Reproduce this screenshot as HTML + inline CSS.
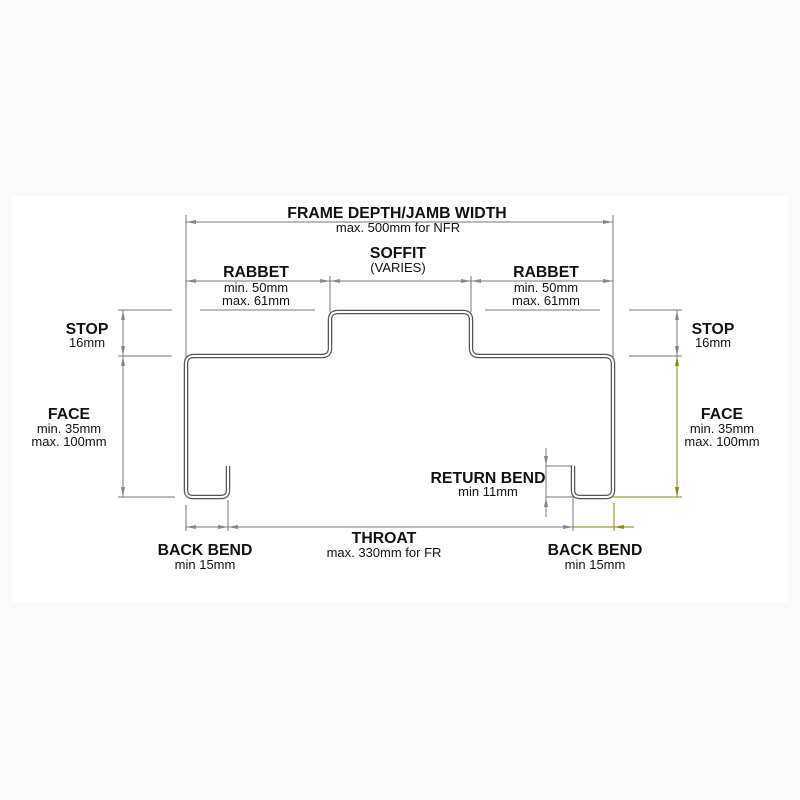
<!DOCTYPE html>
<html><head><meta charset="utf-8"><style>
html,body{margin:0;padding:0;background:#fafafa;}
svg{display:block;}
text{font-family:"Liberation Sans",sans-serif;fill:#111;text-anchor:middle;}
.b{font-weight:bold;font-size:15.8px;}
.s{font-size:13px;}
</style></head><body>
<svg width="800" height="800" viewBox="0 0 800 800" xmlns="http://www.w3.org/2000/svg">
<defs>
<marker id="a" markerWidth="10" markerHeight="6" refX="10" refY="3" orient="auto-start-reverse" markerUnits="userSpaceOnUse"><path d="M0,1 L10,3 L0,5 Z" fill="#888"/></marker>
<marker id="o" markerWidth="10" markerHeight="6" refX="10" refY="3" orient="auto-start-reverse" markerUnits="userSpaceOnUse"><path d="M0,1 L10,3 L0,5 Z" fill="#8a8a10"/></marker>
</defs>
<rect x="12" y="196" width="776" height="406" fill="#fff"/>
<g stroke="#777" stroke-width="1" fill="none">
<line x1="186" y1="222" x2="613" y2="222" marker-start="url(#a)" marker-end="url(#a)"/>
<line x1="186" y1="215" x2="186" y2="357"/>
<line x1="613" y1="215" x2="613" y2="357"/>
<line x1="186" y1="281" x2="330" y2="281" marker-start="url(#a)" marker-end="url(#a)"/>
<line x1="330" y1="281" x2="471" y2="281" marker-start="url(#a)" marker-end="url(#a)"/>
<line x1="471" y1="281" x2="613" y2="281" marker-start="url(#a)" marker-end="url(#a)"/>
<line x1="330" y1="276" x2="330" y2="312"/>
<line x1="471" y1="276" x2="471" y2="312"/>
<line x1="200" y1="310" x2="315" y2="310"/>
<line x1="485" y1="310" x2="600" y2="310"/>
<line x1="118" y1="310" x2="172" y2="310"/>
<line x1="118" y1="356" x2="172" y2="356"/>
<line x1="118" y1="497" x2="175" y2="497"/>
<line x1="123" y1="310" x2="123" y2="356" marker-start="url(#a)" marker-end="url(#a)"/>
<line x1="123" y1="356" x2="123" y2="497" marker-start="url(#a)" marker-end="url(#a)"/>
<line x1="629" y1="310" x2="682" y2="310"/>
<line x1="629" y1="356" x2="682" y2="356"/>
<line x1="677" y1="310" x2="677" y2="356" marker-start="url(#a)" marker-end="url(#a)"/>
<line x1="186" y1="505" x2="186" y2="531"/>
<line x1="228" y1="500" x2="228" y2="531"/>
<line x1="186" y1="527" x2="228" y2="527" marker-start="url(#a)" marker-end="url(#a)"/>
<line x1="228" y1="527" x2="573" y2="527" marker-start="url(#a)" marker-end="url(#a)"/>
<line x1="573" y1="468" x2="573" y2="531"/>
<line x1="546" y1="448" x2="546" y2="517"/>
<line x1="546" y1="466" x2="573" y2="466"/>
<line x1="546" y1="497" x2="573" y2="497"/>
<line x1="546" y1="448" x2="546" y2="466" marker-end="url(#a)"/>
<line x1="546" y1="517" x2="546" y2="497" marker-end="url(#a)"/>
</g>
<g stroke="#8a8a10" stroke-width="1" fill="none">
<line x1="677" y1="356" x2="677" y2="497" marker-start="url(#o)" marker-end="url(#o)"/>
<line x1="613" y1="497" x2="682" y2="497"/>
<line x1="614" y1="503" x2="614" y2="531"/>
<line x1="573" y1="527" x2="634" y2="527"/>
<line x1="634" y1="527" x2="614" y2="527" marker-end="url(#o)"/>
</g>
<path d="M228,466 V490 Q228,497 221,497 H193 Q186,497 186,490 V364 Q186,356 194,356 H322 Q330,356 330,348 V320 Q330,312 338,312 H463 Q471,312 471,320 V348 Q471,356 479,356 H605 Q613,356 613,364 V490 Q613,497 606,497 H580 Q573,497 573,490 V466" fill="none" stroke="#555" stroke-width="4.5"/>
<path d="M228,466 V490 Q228,497 221,497 H193 Q186,497 186,490 V364 Q186,356 194,356 H322 Q330,356 330,348 V320 Q330,312 338,312 H463 Q471,312 471,320 V348 Q471,356 479,356 H605 Q613,356 613,364 V490 Q613,497 606,497 H580 Q573,497 573,490 V466" fill="none" stroke="#fff" stroke-width="2"/>
<text class="b" x="397" y="218">FRAME DEPTH/JAMB WIDTH</text>
<text class="s" x="398" y="232">max. 500mm for NFR</text>
<text class="b" x="398" y="258">SOFFIT</text>
<text class="s" x="398" y="272">(VARIES)</text>
<text class="b" x="256" y="277">RABBET</text>
<text class="s" x="256" y="292">min. 50mm</text>
<text class="s" x="256" y="305">max. 61mm</text>
<text class="b" x="546" y="277">RABBET</text>
<text class="s" x="546" y="292">min. 50mm</text>
<text class="s" x="546" y="305">max. 61mm</text>
<text class="b" x="87" y="334">STOP</text>
<text class="s" x="87" y="347">16mm</text>
<text class="b" x="713" y="334">STOP</text>
<text class="s" x="713" y="347">16mm</text>
<text class="b" x="69" y="419">FACE</text>
<text class="s" x="69" y="433">min. 35mm</text>
<text class="s" x="69" y="446">max. 100mm</text>
<text class="b" x="722" y="419">FACE</text>
<text class="s" x="722" y="433">min. 35mm</text>
<text class="s" x="722" y="446">max. 100mm</text>
<text class="b" x="488" y="483">RETURN BEND</text>
<text class="s" x="488" y="496">min 11mm</text>
<text class="b" x="384" y="543">THROAT</text>
<text class="s" x="384" y="557">max. 330mm for FR</text>
<text class="b" x="205" y="555">BACK BEND</text>
<text class="s" x="205" y="569">min 15mm</text>
<text class="b" x="595" y="555">BACK BEND</text>
<text class="s" x="595" y="569">min 15mm</text>
</svg>
</body></html>
